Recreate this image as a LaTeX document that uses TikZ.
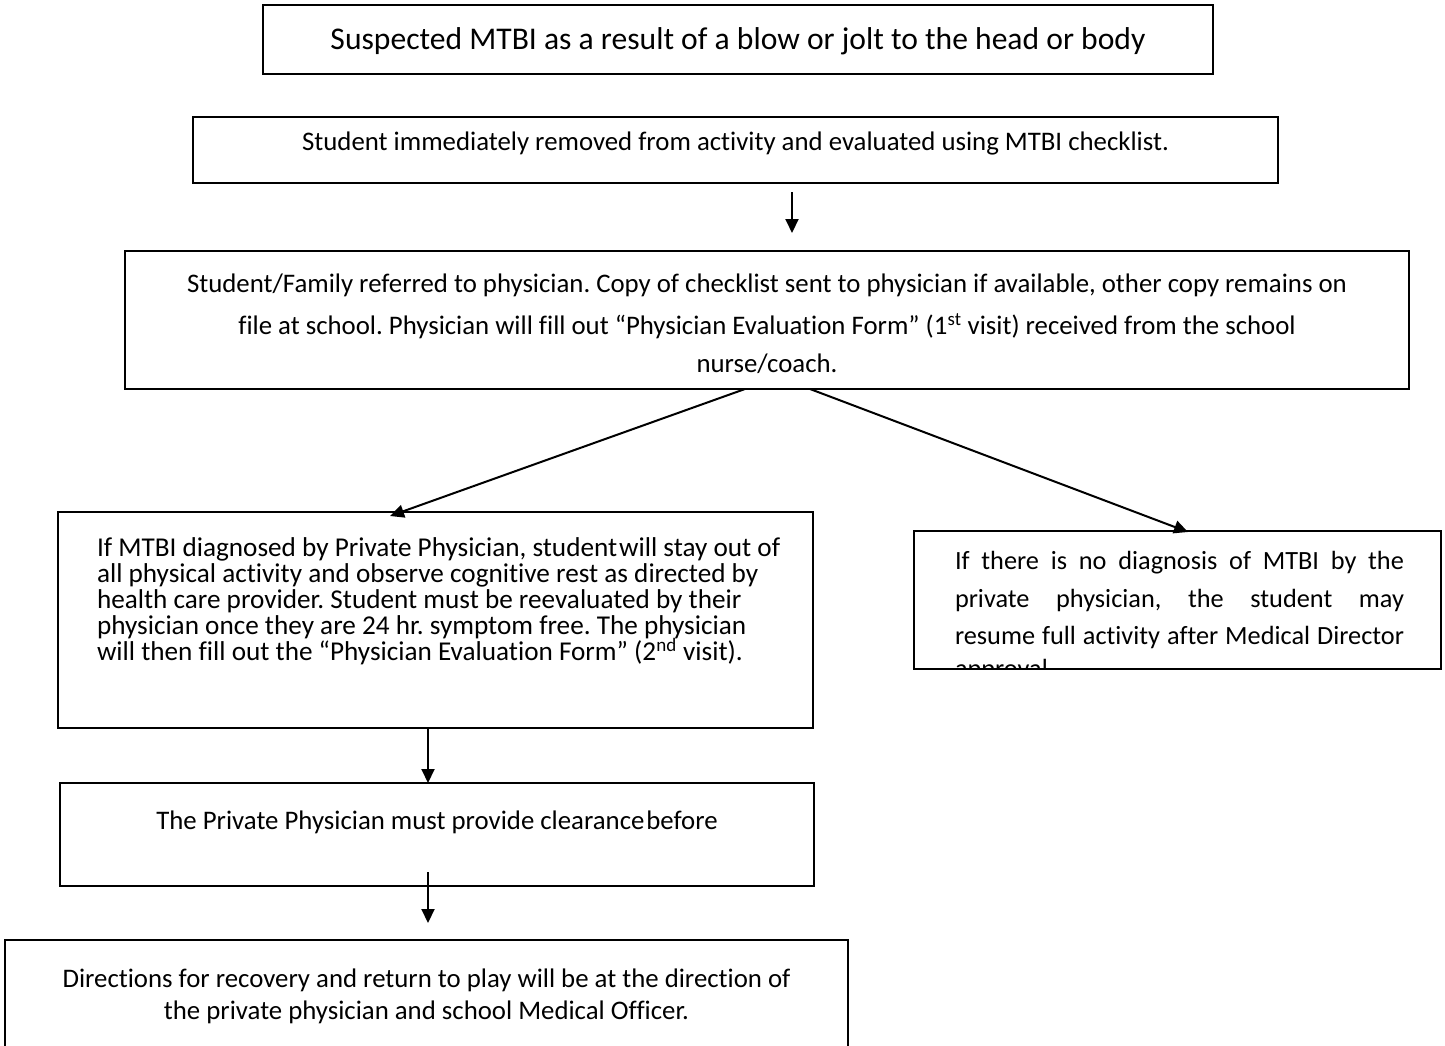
\documentclass[tikz,border=0pt]{standalone}
\usepackage{fontspec}
\setmainfont{Carlito}[Ligatures=NoCommon]
\usetikzlibrary{arrows.meta,calc}
\frenchspacing

\tikzset{
  frame/.style={draw, line width=2pt, inner sep=0pt, outer sep=0pt},
  txt/.style={inner sep=0pt, outer sep=0pt},
  flow/.style={line width=2pt, -{Triangle[length=14pt,width=13pt]}},
}
\newcommand{\boxfont}[2]{\fontsize{#1}{#2}\selectfont\lineskiplimit=-40pt\lineskip=0pt}

\begin{document}
\begin{tikzpicture}[x=1pt,y=-1pt]

    \clip (0,0) rectangle (1445,1046);

    % suspected injury
    \node[frame, minimum width=950, minimum height=69] (b1) at (738,39.5) {};
    \node[txt, anchor=north, font=\boxfont{31.6}{34}] (t1) at (738,27.5)
      {Suspected MTBI as a result of a blow or jolt to the head or body};

    % removal and checklist
    \node[frame, minimum width=1085, minimum height=66] (b2) at (735.5,150) {};
    \node[txt, anchor=north, font=\boxfont{26.8}{29}] (t2) at (735.5,132)
      {Student immediately removed from activity and evaluated using MTBI checklist.};

    % referral to physician
    \node[frame, minimum width=1284, minimum height=138] (b3) at (767,320) {};
    \node[txt, anchor=north, align=center, font=\boxfont{26.8}{38}] (t3) at (767,274)
      {Student/Family referred to physician. Copy of checklist sent to physician if available, other copy remains on\\[4pt]
       file at school. Physician will fill out “Physician Evaluation Form” (1\textsuperscript{st} visit) received from the school\\
       nurse/coach.};

    % diagnosed
    \node[frame, minimum width=755, minimum height=216] (b4) at (435.5,620) {};
    \node[txt, anchor=north west, align=left, font=\boxfont{27.2}{25.8}] (t4) at (97,538)
      {If MTBI diagnosed by Private Physician, student\hspace{2pt}will stay out of\\
       all physical activity and observe cognitive rest as directed by\\
       health care provider. Student must be reevaluated by their\\
       physician once they are 24 hr. symptom free. The physician\\
       will then fill out the “Physician Evaluation Form” (2\textsuperscript{nd} visit).};

    % not diagnosed
    \node[frame, minimum width=527, minimum height=138] (b5) at (1177.5,600) {};
    \begin{scope}
      \clip (b5.north west) rectangle (b5.south east);
      \node[txt, anchor=north west, text width=449pt, align=justify, font=\boxfont{26.3}{37.5}] (t5) at (955,551.5)
        {If there is no diagnosis of MTBI by the\linebreak
         private physician, the student may\linebreak
         resume full activity after Medical Director\vadjust{\vskip-5pt}\linebreak
         approval.};
    \end{scope}

    % clearance
    \node[frame, minimum width=754, minimum height=103] (b6) at (437,834.5) {};
    \node[txt, anchor=north, font=\boxfont{26.8}{29}] (t6) at (437,811)
      {The Private Physician must provide clearance\hspace{2pt}before};

    % return to play
    \node[frame, minimum width=843, minimum height=130] (b7) at (426.5,1005) {};
    \node[txt, anchor=north, align=center, font=\boxfont{26.8}{32}] (t7) at (426.5,969)
      {Directions for recovery and return to play will be at the direction of\\
       the private physician and school Medical Officer.};

    % arrows
    \draw[flow] ([xshift=56.5pt,yshift=-9pt]b2.south) -- ([xshift=25pt,yshift=18pt]b3.north);
    \draw[flow] ([xshift=-22pt]b3.south) -- ([xshift=-45.5pt,yshift=-4pt]b4.north);
    \draw[flow] ([xshift=43pt]b3.south) -- ([xshift=10.5pt,yshift=-1pt]b5.north);
    \draw[flow] ([xshift=-7.5pt]b4.south) -- ([xshift=-9pt]b6.north);
    \draw[flow] ([xshift=-9pt,yshift=14pt]b6.south) -- ([xshift=1.5pt,yshift=17pt]b7.north);

\end{tikzpicture}
\end{document}
